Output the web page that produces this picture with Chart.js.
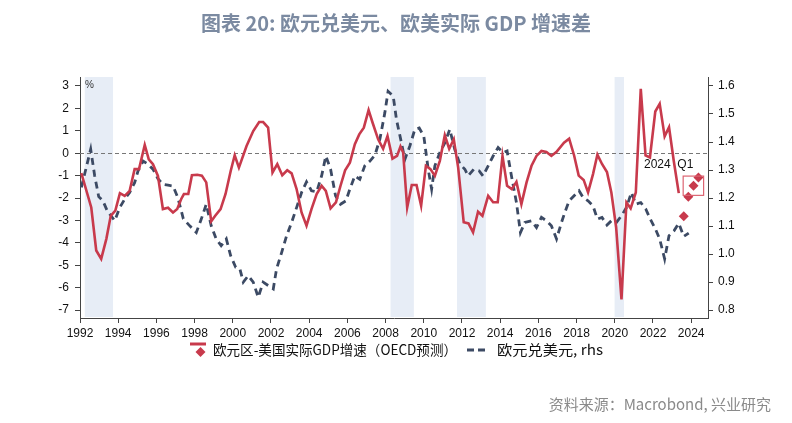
<!DOCTYPE html>
<html>
<head>
<meta charset="utf-8">
<script src="https://cdn.jsdelivr.net/npm/chart.js@4.4.1/dist/chart.umd.min.js"></script>
<style>
  html, body { margin: 0; padding: 0; background: #fff; }
  #wrap { width: 792px; height: 423px; }
</style>
</head>
<body>
<div id="wrap"><canvas id="chart" width="792" height="423"></canvas></div>
<script>
// euro area minus US real GDP growth, %, quarterly (left axis)
const gapYears = [1992.07, 1992.59, 1992.85, 1993.11, 1993.38, 1993.61, 1993.85, 1994.09, 1994.34, 1994.6,
    1994.86, 1995.09, 1995.39, 1995.6, 1995.82, 1996.08, 1996.34, 1996.61, 1996.87, 1997.09,
    1997.3, 1997.44, 1997.67, 1997.86, 1998.14, 1998.38, 1998.61, 1998.87, 1999.08, 1999.36,
    1999.62, 1999.89, 2000.1, 2000.32, 2000.72, 2001.07, 2001.38, 2001.59, 2001.85, 2002.08,
    2002.33, 2002.59, 2002.85, 2003.08, 2003.34, 2003.6, 2003.86, 2004.12, 2004.39, 2004.65,
    2004.87, 2005.12, 2005.4, 2005.64, 2005.88, 2006.13, 2006.39, 2006.62, 2006.86, 2007.11,
    2007.32, 2007.61, 2007.87, 2008.1, 2008.36, 2008.6, 2008.78, 2008.92, 2009.13, 2009.37,
    2009.62, 2009.86, 2010.11, 2010.35, 2010.58, 2010.84, 2011.1, 2011.33, 2011.57, 2011.8,
    2012.09, 2012.34, 2012.58, 2012.84, 2013.07, 2013.37, 2013.63, 2013.87, 2014.12, 2014.36,
    2014.61, 2014.85, 2015.11, 2015.38, 2015.64, 2015.9, 2016.16, 2016.42, 2016.68, 2016.95,
    2017.34, 2017.61, 2017.87, 2018.11, 2018.37, 2018.6, 2018.86, 2019.09, 2019.33, 2019.59,
    2019.82, 2020.07, 2020.35, 2020.61, 2020.83, 2021.1, 2021.36, 2021.61, 2021.84, 2022.12,
    2022.35, 2022.61, 2022.84, 2023.09, 2023.35];
const gapValues = [-0.89, -2.42, -4.34, -4.71, -3.82, -2.79, -2.56, -1.78, -1.9, -1.68,
    -0.71, -0.71, 0.37, -0.27, -0.49, -1.01, -2.49, -2.43, -2.64, -2.49,
    -2.04, -1.82, -1.82, -0.98, -0.96, -1.0, -1.3, -3.04, -2.79, -2.49,
    -1.82, -0.79, -0.09, -0.64, 0.32, 0.99, 1.39, 1.39, 1.14, -0.86,
    -0.49, -0.98, -0.76, -0.9, -1.6, -2.64, -3.23, -2.49, -1.82, -1.45,
    -1.68, -2.46, -2.19, -1.45, -0.76, -0.42, 0.4, 0.84, 1.14, 1.92,
    1.36, 0.62, 0.2, 0.77, -0.24, -0.12, 0.3, 0.03, -2.42, -1.42,
    -1.42, -2.34, -0.56, -0.71, -1.01, -0.34, 0.8, 0.2, 0.62, -0.64,
    -3.08, -3.13, -3.53, -2.61, -2.79, -1.9, -2.19, -2.19, -0.12, -1.45,
    -1.6, -1.28, -2.27, -1.3, -0.56, -0.12, 0.1, 0.06, -0.12, 0.06,
    0.47, 0.65, -0.1, -1.0, -1.19, -1.75, -0.93, -0.06, -0.48, -0.84,
    -1.75, -3.3, -6.52, -2.2, -2.46, -1.75, 2.87, -0.1, -0.19, 1.86,
    2.2, 0.75, 1.16, -0.36, -1.78];

// OECD forecast points (diamonds)
const forecastYears = [2023.61, 2023.85, 2024.12, 2024.38];
const forecastValues = [-2.81, -1.94, -1.45, -1.08];

// EUR/USD (right axis)
const eurusdYears = [1992.07, 1992.56, 1992.77, 1992.98, 1993.2, 1993.43, 1993.82, 1994.08, 1994.34, 1994.6,
    1994.86, 1995.04, 1995.3, 1995.56, 1995.82, 1996.08, 1996.34, 1996.61, 1996.87, 1997.13,
    1997.41, 1997.76, 1998.09, 1998.35, 1998.61, 1998.87, 1999.13, 1999.39, 1999.66, 1999.89,
    2000.15, 2000.37, 2000.55, 2000.81, 2001.07, 2001.33, 2001.59, 2001.85, 2002.12, 2002.29,
    2002.56, 2002.82, 2003.08, 2003.34, 2003.6, 2003.86, 2004.12, 2004.39, 2004.65, 2004.87,
    2005.12, 2005.38, 2005.64, 2005.92, 2006.13, 2006.39, 2006.65, 2006.91, 2007.18, 2007.44,
    2007.7, 2007.96, 2008.13, 2008.4, 2008.57, 2008.83, 2009.01, 2009.27, 2009.53, 2009.76,
    2010.0, 2010.23, 2010.41, 2010.58, 2010.84, 2011.1, 2011.36, 2011.62, 2011.89, 2012.15,
    2012.32, 2012.62, 2012.9, 2013.1, 2013.37, 2013.63, 2013.89, 2014.15, 2014.36, 2014.59,
    2014.85, 2015.06, 2015.29, 2015.64, 2015.9, 2016.16, 2016.42, 2016.68, 2016.95, 2017.21,
    2017.38, 2017.61, 2017.87, 2018.13, 2018.34, 2018.6, 2018.86, 2019.09, 2019.33, 2019.59,
    2019.82, 2020.09, 2020.35, 2020.61, 2020.87, 2021.1, 2021.36, 2021.62, 2021.86, 2022.13,
    2022.35, 2022.61, 2022.84, 2023.1, 2023.35, 2023.61, 2023.87];
const eurusdValues = [1.238, 1.374, 1.279, 1.205, 1.19, 1.154, 1.119, 1.166, 1.196, 1.22,
    1.255, 1.297, 1.332, 1.321, 1.303, 1.269, 1.249, 1.246, 1.243, 1.2,
    1.126, 1.1, 1.077, 1.125, 1.178, 1.101, 1.054, 1.03, 1.054, 0.994,
    0.953, 0.947, 0.9, 0.923, 0.9, 0.846, 0.9, 0.888, 0.876, 0.947,
    1.006, 1.066, 1.113, 1.166, 1.22, 1.258, 1.226, 1.222, 1.279, 1.35,
    1.303, 1.208, 1.178, 1.19, 1.232, 1.279, 1.267, 1.315, 1.332, 1.353,
    1.41, 1.504, 1.581, 1.563, 1.48, 1.397, 1.338, 1.386, 1.445, 1.45,
    1.421, 1.303, 1.232, 1.315, 1.362, 1.397, 1.445, 1.374, 1.321, 1.303,
    1.279, 1.303, 1.297, 1.279, 1.315, 1.35, 1.38, 1.362, 1.368, 1.279,
    1.184, 1.077, 1.113, 1.119, 1.095, 1.131, 1.119, 1.101, 1.054, 1.113,
    1.148, 1.19, 1.208, 1.226, 1.202, 1.19, 1.172, 1.125, 1.131, 1.104,
    1.119, 1.113, 1.137, 1.166, 1.22, 1.178, 1.184, 1.161, 1.125, 1.089,
    1.054, 0.983, 1.066, 1.083, 1.11, 1.063, 1.075];

// euro area recession shading
const recessionStarts = [1992.25, 2008.26, 2011.74, 2019.99];
const recessionEnds = [1993.73, 2009.48, 2013.25, 2020.48];

const xTicks = [1992, 1994, 1996, 1998, 2000, 2002, 2004, 2006, 2008, 2010, 2012, 2014, 2016, 2018, 2020, 2022, 2024];
const leftTicks = [-7, -6, -5, -4, -3, -2, -1, 0, 1, 2, 3];
const rightTicks = [0.8, 0.9, 1.0, 1.1, 1.2, 1.3, 1.4, 1.5, 1.6];

const RED = '#c83a4c';
const NAVY = '#3c4a64';
const AXIS = '#444';

const toPoints = (xs, ys) => xs.map((x, i) => ({ x, y: ys[i] }));
const setTicks = (values) => (axis) => {
    axis.ticks = values.map((value) => ({ value }));
};

// draw text squeezed/stretched to a given width
const fitText = (ctx, text, x, y, width) => {
    const measured = ctx.measureText(text).width;
    ctx.save();
    ctx.translate(x, y);
    ctx.scale(width / measured, 1);
    ctx.fillText(text, 0, 0);
    ctx.restore();
};

const decorations = {
    id: 'decorations',
    beforeDatasetsDraw(chart) {
        const { ctx, chartArea, scales } = chart;
        ctx.save();
        ctx.fillStyle = '#e7edf6';
        recessionStarts.forEach((start, i) => {
            const x0 = scales.x.getPixelForValue(start);
            const x1 = scales.x.getPixelForValue(recessionEnds[i]);
            ctx.fillRect(x0, chartArea.top, x1 - x0, chartArea.bottom - chartArea.top - 1);
        });

        const zeroY = Math.round(scales.y.getPixelForValue(0)) + 0.5;
        ctx.strokeStyle = '#777';
        ctx.lineWidth = 1;
        ctx.setLineDash([4, 3]);
        ctx.beginPath();
        ctx.moveTo(chartArea.left, zeroY);
        ctx.lineTo(chartArea.right, zeroY);
        ctx.stroke();
        ctx.restore();
    },
    afterDraw(chart) {
        const { ctx, chartArea, scales } = chart;
        ctx.save();

        // forecast box + label
        const bx0 = scales.x.getPixelForValue(2023.58);
        const bx1 = scales.x.getPixelForValue(2024.65);
        const by0 = scales.y.getPixelForValue(-1.02);
        const by1 = scales.y.getPixelForValue(-1.88);
        ctx.strokeStyle = '#dc6472';
        ctx.lineWidth = 1.2;
        ctx.strokeRect(bx0, by0, bx1 - bx0, by1 - by0);

        ctx.fillStyle = '#111';
        ctx.font = "12px 'Liberation Sans', Arial, sans-serif";
        ctx.textAlign = 'center';
        ctx.textBaseline = 'middle';
        ctx.fillText('2024  Q1', scales.x.getPixelForValue(2022.82), scales.y.getPixelForValue(-0.53));

        ctx.font = "10px 'Liberation Sans', Arial, sans-serif";
        ctx.fillStyle = '#333';
        ctx.textAlign = 'left';
        ctx.fillText('%', chartArea.left + 5, chartArea.top + 8);

        // title
        ctx.font = "bold 20px 'Noto Sans CJK SC', sans-serif";
        ctx.fillStyle = '#7b8aa1';
        ctx.textAlign = 'center';
        ctx.fillText('图表 20: 欧元兑美元、欧美实际 GDP 增速差', 396, 23);

        // legend
        ctx.strokeStyle = RED;
        ctx.lineWidth = 3;
        ctx.beginPath();
        ctx.moveTo(190, 344);
        ctx.lineTo(206, 344);
        ctx.stroke();
        ctx.fillStyle = RED;
        ctx.beginPath();
        ctx.moveTo(200.5, 347);
        ctx.lineTo(205.5, 352);
        ctx.lineTo(200.5, 357);
        ctx.lineTo(195.5, 352);
        ctx.closePath();
        ctx.fill();

        ctx.strokeStyle = NAVY;
        ctx.beginPath();
        ctx.moveTo(467, 350);
        ctx.lineTo(474, 350);
        ctx.moveTo(478, 350);
        ctx.lineTo(485, 350);
        ctx.stroke();

        ctx.fillStyle = '#111';
        ctx.font = "14px 'Noto Sans CJK SC', sans-serif";
        ctx.textAlign = 'left';
        fitText(ctx, '欧元区-美国实际GDP增速（OECD预测）', 213, 350, 244);
        fitText(ctx, '欧元兑美元, rhs', 497, 350, 106);

        // source
        ctx.fillStyle = '#8a8a8a';
        ctx.font = "15px 'Noto Sans CJK SC', sans-serif";
        ctx.textAlign = 'right';
        ctx.fillText('资料来源：Macrobond, 兴业研究', 771, 404);
        ctx.restore();
    },
};

const axisGrid = { drawOnChartArea: false, drawTicks: true, tickLength: 5, tickColor: AXIS };
const tickFont = { family: "'Liberation Sans', Arial, sans-serif", size: 12 };

new Chart(document.getElementById('chart'), {
    type: 'line',
    data: {
        datasets: [
            {
                label: '欧元区-美国实际GDP增速（OECD预测）',
                data: toPoints(gapYears, gapValues),
                yAxisID: 'y',
                borderColor: RED,
                borderWidth: 2.6,
                pointRadius: 0,
                tension: 0,
                order: 1,
            },
            {
                label: 'OECD预测',
                data: toPoints(forecastYears, forecastValues),
                yAxisID: 'y',
                showLine: false,
                pointStyle: 'rectRot',
                pointRadius: 5,
                pointBackgroundColor: RED,
                pointBorderColor: RED,
                pointBorderWidth: 0,
                order: 0,
            },
            {
                label: '欧元兑美元, rhs',
                data: toPoints(eurusdYears, eurusdValues),
                yAxisID: 'y1',
                borderColor: NAVY,
                borderWidth: 2.8,
                borderDash: [7, 5],
                pointRadius: 0,
                tension: 0,
                order: 2,
            },
        ],
    },
    options: {
        responsive: false,
        animation: false,
        devicePixelRatio: 1,
        layout: { padding: { top: 77, left: 0, right: 0, bottom: 0 } },
        plugins: {
            legend: { display: false },
            tooltip: { enabled: false },
        },
        scales: {
            x: {
                type: 'linear',
                min: 1992,
                max: 2024.88,
                afterBuildTicks: setTicks(xTicks),
                afterFit: (scale) => { scale.height = 105; },
                grid: axisGrid,
                border: { color: AXIS },
                ticks: {
                    font: tickFont,
                    color: '#111',
                    padding: 3,
                    maxRotation: 0,
                    autoSkip: false,
                    callback: (value) => String(value),
                },
            },
            y: {
                position: 'left',
                min: -7.35,
                max: 3.4,
                afterBuildTicks: setTicks(leftTicks),
                afterFit: (scale) => { scale.width = 80; },
                grid: axisGrid,
                border: { color: AXIS },
                ticks: {
                    font: tickFont,
                    color: '#111',
                    padding: 6,
                    callback: (value) => String(value),
                },
            },
            y1: {
                position: 'right',
                min: 0.772,
                max: 1.632,
                afterBuildTicks: setTicks(rightTicks),
                afterFit: (scale) => { scale.width = 84; },
                grid: axisGrid,
                border: { color: AXIS },
                ticks: {
                    font: tickFont,
                    color: '#111',
                    padding: 5,
                    callback: (value) => value.toFixed(1),
                },
            },
        },
    },
    plugins: [decorations],
});
</script>
</body>
</html>
